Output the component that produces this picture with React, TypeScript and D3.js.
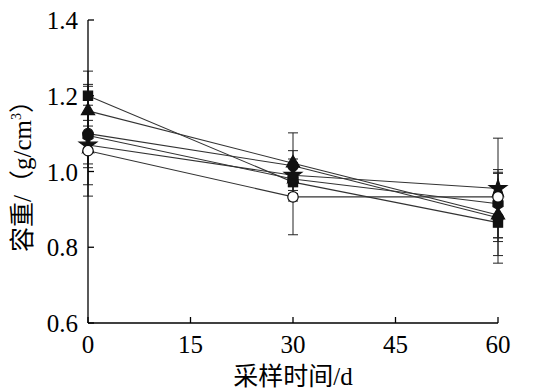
import * as d3 from 'd3';

// sampling days
const days = [0, 30, 60];
const xTicks = [0, 15, 30, 45, 60];
const yTicks = [0.6, 0.8, 1.0, 1.2, 1.4];

// bulk density (g/cm3) per treatment, with error bars
const squareVals = [1.2, 0.972, 0.865];
const squareErr = [0.065, 0.05, 0.05];
const triangleVals = [1.16, 1.022, 0.885];
const triangleErr = [0.07, 0.08, 0.06];
const circleVals = [1.1, 1.015, 0.878];
const circleErr = [0.09, 0.04, 0.12];
const hexVals = [1.095, 0.98, 0.915];
const hexErr = [0.13, 0.03, 0.09];
const starVals = [1.07, 0.99, 0.955];
const starErr = [0.05, 0.03, 0.04];
const openVals = [1.055, 0.933, 0.933];
const openErr = [0.12, 0.1, 0.155];

const series = [
  { name: 'square', vals: squareVals, err: squareErr },
  { name: 'triangle', vals: triangleVals, err: triangleErr },
  { name: 'circle', vals: circleVals, err: circleErr },
  { name: 'hex', vals: hexVals, err: hexErr },
  { name: 'star', vals: starVals, err: starErr },
  { name: 'open', vals: openVals, err: openErr },
];

const width = 550;
const height = 391;
const serif = "'Liberation Serif', 'Times New Roman', serif";
const cjk = "'Liberation Serif', 'Noto Sans CJK SC', serif";

const hexPath = (r: number) => {
  const pts: [number, number][] = d3.range(6).map((i) => {
    const a = (Math.PI / 3) * i + Math.PI / 6;
    return [r * Math.cos(a), r * Math.sin(a)];
  });
  return d3.line()(pts) + 'Z';
};

const markerPath = (name: string) => {
  if (name === 'square') return d3.symbol(d3.symbolSquare, 85)()!;
  if (name === 'triangle') return d3.symbol(d3.symbolTriangle, 75)()!;
  if (name === 'circle' || name === 'open') return d3.symbol(d3.symbolCircle, 85)()!;
  if (name === 'star') return d3.symbol(d3.symbolStar, 95)()!;
  return hexPath(5.8);
};

const App = () => {
  const x = d3.scaleLinear().domain([0, 60]).range([88, 498]);
  const y = d3.scaleLinear().domain([0.6, 1.4]).range([323, 20]);
  const fmtY = d3.format('.1f');

  const line = d3
    .line<number>()
    .x((d, i) => x(days[i]))
    .y((d) => y(d));

  return (
    <svg
      width={width}
      height={height}
      style={{ position: 'absolute', left: 0, top: 0, background: '#fff' }}
    >
      <g>
        {series.map((s) =>
          s.vals.map((v, i) => {
            const cx = x(days[i]);
            const top = y(v + s.err[i]);
            const bot = y(v - s.err[i]);
            return (
              <g key={s.name + i} stroke="#222" strokeWidth={1}>
                <line x1={cx} x2={cx} y1={top} y2={bot} />
                <line x1={cx - 5} x2={cx + 5} y1={top} y2={top} />
                <line x1={cx - 5} x2={cx + 5} y1={bot} y2={bot} />
              </g>
            );
          })
        )}
      </g>
      <g>
        {series.map((s) => (
          <path key={s.name} d={line(s.vals)!} fill="none" stroke="#333" strokeWidth={1.1} />
        ))}
      </g>
      {/* axes */}
      <g stroke="#000" strokeWidth={1.3}>
        <line x1={x(0)} x2={x(60)} y1={y(0.6)} y2={y(0.6)} />
        <line x1={x(0)} x2={x(0)} y1={y(0.6)} y2={y(1.4)} />
        {xTicks.map((t) => (
          <line key={'xt' + t} x1={x(t)} x2={x(t)} y1={y(0.6)} y2={y(0.6) - 6} />
        ))}
        {yTicks.map((t) => (
          <line key={'yt' + t} x1={x(0)} x2={x(0) + 6} y1={y(t)} y2={y(t)} />
        ))}
      </g>
      <g style={{ fontFamily: serif, fontSize: '25px' }} fill="#000">
        {xTicks.map((t) => (
          <text key={'xl' + t} x={x(t)} y={y(0.6) + 30} textAnchor="middle">
            {t}
          </text>
        ))}
        {yTicks.map((t) => (
          <text key={'yl' + t} x={x(0) - 10} y={y(t) + 9} textAnchor="end">
            {fmtY(t)}
          </text>
        ))}
      </g>
      <g>
        {series.map((s) =>
          s.vals.map((v, i) => (
            <path
              key={s.name + 'm' + i}
              d={markerPath(s.name)}
              transform={`translate(${x(days[i])},${y(v)})`}
              fill={s.name === 'open' ? '#fff' : '#111'}
              stroke="#111"
              strokeWidth={1.2}
            />
          ))
        )}
      </g>
      <text
        x={293}
        y={385}
        textAnchor="middle"
        style={{ fontFamily: cjk, fontSize: '25px' }}
        fill="#000"
      >
        采样时间/d
      </text>
      <text
        transform="translate(31,170) rotate(-90)"
        textAnchor="middle"
        style={{ fontFamily: cjk, fontSize: '25px' }}
        fill="#000"
      >
        容重/（g/cm<tspan dy={-10} style={{ fontSize: '14px' }}>3</tspan>
        <tspan dy={10}>）</tspan>
      </text>
    </svg>
  );
};

export default App;
